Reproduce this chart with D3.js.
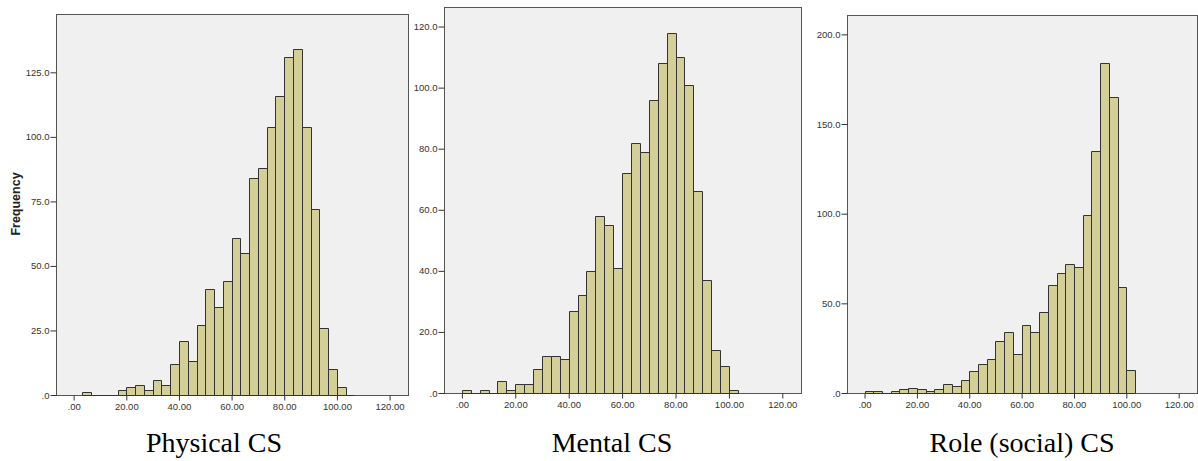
<!DOCTYPE html>
<html>
<head>
<meta charset="utf-8">
<script src="https://cdn.jsdelivr.net/npm/d3@7"></script>
<style>
  body { margin: 0; background: #fff; }
  .tick text { font-family: Arial, "Liberation Sans", sans-serif; font-size: 9.5px; fill: #333; }
  .tick line { stroke: #333; }
</style>
</head>
<body>
<div id="chart"></div>
<script>
// bin counts, bins of width 10/3 starting at 0
const binWidth = 10 / 3;

const physicalCounts = [0, 1, 0, 0, 0, 2, 3, 4, 2, 6, 4, 12, 21, 13, 27, 41, 34, 44, 61, 55,
  84, 88, 104, 116, 131, 134, 104, 72, 26, 10, 3, 0];
const mentalCounts = [1, 0, 1, 0, 4, 1, 3, 3, 8, 12, 12, 11, 27, 32, 40, 58, 55, 41, 72, 82,
  79, 96, 108, 118, 110, 101, 66, 37, 14, 9, 1];
const roleCounts = [1, 1, 0, 1, 2, 3, 2, 1, 2, 5, 4, 7, 12, 16, 19, 29, 34, 22, 38, 34,
  45, 60, 67, 72, 70, 99, 135, 184, 165, 59, 13];

const xTicks = [0, 20, 40, 60, 80, 100, 120];
const physicalYTicks = [0, 25, 50, 75, 100, 125];
const mentalYTicks = [0, 20, 40, 60, 80, 100, 120];
const roleYTicks = [0, 50, 100, 150, 200];

const titles = ["Physical CS", "Mental CS", "Role (social) CS"];

const width = 1198, height = 461;

const svg = d3.select("#chart").append("svg")
  .attr("width", width)
  .attr("height", height);

const panels = [
  { counts: physicalCounts, yTicks: physicalYTicks, yMax: 147.6,
    box: { left: 56, top: 14, right: 408, bottom: 395 }, titleX: 214, ylabel: true },
  { counts: mentalCounts, yTicks: mentalYTicks, yMax: 126.4,
    box: { left: 444, top: 7, right: 801, bottom: 393 }, titleX: 612, ylabel: false },
  { counts: roleCounts, yTicks: roleYTicks, yMax: 210.8,
    box: { left: 847, top: 15, right: 1197, bottom: 393 }, titleX: 1022, ylabel: false }
];

const fmtY = v => d3.format(".1f")(v).replace(/^0\./, ".");
const fmtX = v => d3.format(".2f")(v).replace(/^0\./, ".");

panels.forEach((p, idx) => {
  const b = p.box;
  const x = d3.scaleLinear().domain([-6.7, 127]).range([b.left, b.right]);
  const y = d3.scaleLinear().domain([0, p.yMax]).range([b.bottom, b.top]);

  const g = svg.append("g");

  // plot background
  g.append("rect")
    .attr("x", b.left + 0.5)
    .attr("y", b.top + 0.5)
    .attr("width", b.right - b.left)
    .attr("height", b.bottom - b.top)
    .attr("fill", "#f0f0f0")
    .attr("stroke", "#555")
    .attr("stroke-width", 1);

  // bars (drawn as paths so empty bins still show a base line)
  g.selectAll("path.bar")
    .data(p.counts.map((c, i) => ({ c, i })).filter(d => d.i > 0 || d.c > 0))
    .enter().append("path")
    .attr("class", "bar")
    .attr("d", d => {
      const x0 = Math.round(x(d.i * binWidth)) + 0.5;
      const x1 = Math.round(x((d.i + 1) * binWidth)) + 0.5;
      const y0 = Math.round(y(0)) + 0.5;
      const y1 = Math.round(y(d.c)) + 0.5;
      return d.c > 0
        ? `M${x0},${y0}V${y1}H${x1}V${y0}Z`
        : `M${x0},${y0}H${x1}`;
    })
    .attr("fill", "#d4cf98")
    .attr("stroke", "#333")
    .attr("stroke-width", 1);

  // y axis
  const yAxis = g.append("g")
    .attr("transform", `translate(${b.left + 0.5},0)`)
    .call(d3.axisLeft(y).tickValues(p.yTicks).tickFormat(fmtY).tickSize(6).tickPadding(1));
  yAxis.select(".domain").remove();

  // x axis
  const xAxis = g.append("g")
    .attr("transform", `translate(0,${b.bottom + 0.5})`)
    .call(d3.axisBottom(x).tickValues(xTicks).tickFormat(fmtX).tickSize(5).tickPadding(3));
  xAxis.select(".domain").remove();

  if (p.ylabel) {
    g.append("text")
      .attr("transform", `translate(20,204) rotate(-90)`)
      .attr("text-anchor", "middle")
      .attr("font-family", "Arial, 'Liberation Sans', sans-serif")
      .attr("font-weight", "bold")
      .attr("font-size", 12.5)
      .attr("fill", "#222")
      .text("Frequency");
  }

  svg.append("text")
    .attr("x", p.titleX)
    .attr("y", 452)
    .attr("text-anchor", "middle")
    .attr("font-family", "'Times New Roman', 'Liberation Serif', serif")
    .attr("font-size", 28)
    .attr("fill", "#000")
    .text(titles[idx]);
});
</script>
</body>
</html>
